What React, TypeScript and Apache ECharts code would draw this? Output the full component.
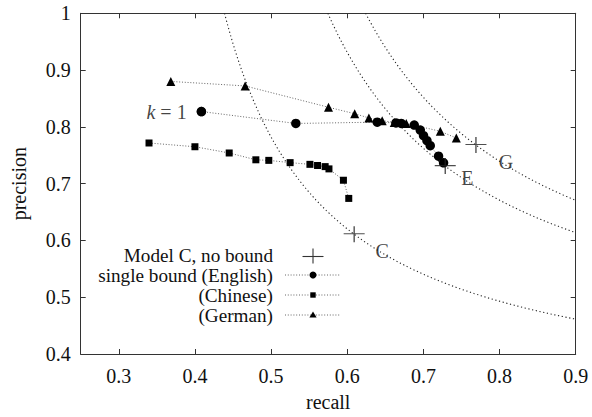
import React, { useEffect, useRef } from "react";
import * as echarts from "echarts";

const englishRecall = [0.4085, 0.5325, 0.6394, 0.6640, 0.6709, 0.6880, 0.6959, 0.7002, 0.7047, 0.7090, 0.7199, 0.7265];
const englishPrecision = [0.8270, 0.8060, 0.8083, 0.8070, 0.8060, 0.8031, 0.7943, 0.7844, 0.7756, 0.7669, 0.7484, 0.7367];

const chineseRecall = [0.3397, 0.400, 0.445, 0.480, 0.497, 0.525, 0.551, 0.561, 0.571, 0.576, 0.595, 0.602];
const chinesePrecision = [0.7716, 0.765, 0.754, 0.742, 0.741, 0.737, 0.734, 0.732, 0.730, 0.726, 0.706, 0.674];

const germanRecall = [0.3683, 0.4659, 0.5754, 0.6098, 0.6284, 0.6459, 0.6617, 0.6775, 0.7222, 0.7432];
const germanPrecision = [0.8800, 0.8721, 0.8345, 0.8232, 0.8157, 0.8109, 0.8078, 0.8060, 0.7922, 0.7804];

const modelNames = ["C", "E", "G"];
const modelRecall = [0.6091, 0.7287, 0.769];
const modelPrecision = [0.6109, 0.7309, 0.7681];

const xTicks = [0.3, 0.4, 0.5, 0.6, 0.7, 0.8, 0.9];
const yTicks = [0.4, 0.5, 0.6, 0.7, 0.8, 0.9, 1];

const FONT = "Liberation Serif";
const FS = 20;
const LFS = 19.2;

const labelOffsets: Record<string, number[]> = { C: [28, 17], E: [22, 12], G: [30, 17] };

function zip(a: number[], b: number[]) {
  return a.map((v, i) => [v, b[i]]);
}

function isoCurve(r0: number, p0: number, rMax: number) {
  const f = (2 * p0 * r0) / (p0 + r0);
  const rStart = f / (2 - f);
  const pts: number[][] = [];
  const n = 200;
  for (let i = 0; i <= n; i++) {
    const r = rStart + ((rMax - rStart) * i) / n;
    pts.push([r, (f * r) / (2 * r - f)]);
  }
  return pts;
}

export default function App() {
  const ref = useRef<HTMLDivElement>(null);
  useEffect(() => {
    if (!ref.current) return;
    const chart = echarts.init(ref.current, undefined, { renderer: "svg" });
    const textStyle = { fontFamily: FONT, fontSize: FS, color: "#111" };
    const axisLine = { show: true, lineStyle: { color: "#333", width: 1 } };
    const tick = { show: true, inside: true, length: 5, lineStyle: { color: "#333" } };

    const curveSeries = modelRecall.map((r, i) => ({
      type: "line",
      data: isoCurve(r, modelPrecision[i], 0.9),
      showSymbol: false,
      symbol: "none",
      lineStyle: { color: "#222", width: 1.1, type: [1.2, 2.6] },
      silent: true,
      z: 1,
    }));

    const lineStyle = { color: "#666", width: 1, type: [1, 1.8] };

    const lx = 285, lx2 = 341, lcx = 313, tx = 273;
    const rows = [255, 275, 295, 315];
    const legendTexts = ["Model C, no bound", "single bound (English)", "(Chinese)", "(German)"];

    const graphic: any[] = [];
    legendTexts.forEach((t, i) => {
      graphic.push({
        type: "text",
        x: tx,
        y: rows[i],
        style: { text: t, font: `${LFS}px "${FONT}"`, lineHeight: 19, fill: "#111", align: "right", verticalAlign: "middle" },
      });
    });
    graphic.push({ type: "line", shape: { x1: lcx - 10.5, y1: rows[0] + 1.5, x2: lcx + 10.5, y2: rows[0] + 1.5 }, style: { stroke: "#333", lineWidth: 1.1 } });
    graphic.push({ type: "line", shape: { x1: lcx, y1: rows[0] - 6.5, x2: lcx, y2: rows[0] + 8.5 }, style: { stroke: "#333", lineWidth: 1.1 } });
    [1, 2, 3].forEach((i) => {
      graphic.push({ type: "line", shape: { x1: lx, y1: rows[i], x2: lx2, y2: rows[i] }, style: { stroke: "#666", lineWidth: 1, lineDash: [1, 1.8] } });
    });
    graphic.push({ type: "circle", shape: { cx: lcx, cy: rows[1], r: 3.5 }, style: { fill: "#000" } });
    graphic.push({ type: "rect", shape: { x: lcx - 2.7, y: rows[2] - 2.7, width: 5.4, height: 5.4 }, style: { fill: "#000" } });
    graphic.push({ type: "polygon", shape: { points: [[lcx, rows[3] - 3.5], [lcx - 3.6, rows[3] + 2.5], [lcx + 3.6, rows[3] + 2.5]] }, style: { fill: "#000" } });

    const option: any = {
      animation: false,
      backgroundColor: "#fff",
      textStyle: { fontFamily: FONT },
      grid: { left: 80.7, top: 13.3, right: 16.3, bottom: 60.3, containLabel: false },
      xAxis: [
        {
          type: "value",
          min: 0.25,
          max: 0.9,
          splitNumber: 6,
          position: "bottom",
          axisLine,
          axisTick: tick,
          splitLine: { show: false },
          axisLabel: {
            ...textStyle,
            margin: 12,
            showMinLabel: false,
            formatter: (v: number) => {
              const t = xTicks.find((x) => Math.abs(x - v) < 1e-6);
              return t === undefined ? "" : t.toFixed(1);
            },
          },
          name: "recall",
          nameLocation: "middle",
          nameGap: 38,
          nameTextStyle: textStyle,
        },
        {
          type: "value",
          min: 0.25,
          max: 0.9,
          splitNumber: 6,
          position: "top",
          axisLine,
          axisTick: tick,
          splitLine: { show: false },
          axisLabel: { show: false },
        },
      ],
      yAxis: [
        {
          type: "value",
          min: 0.4,
          max: 1,
          interval: 0.1,
          position: "left",
          axisLine,
          axisTick: tick,
          splitLine: { show: false },
          axisLabel: {
            ...textStyle,
            margin: 10,
            formatter: (v: number) => {
              const t = yTicks.find((y) => Math.abs(y - v) < 1e-6);
              if (t === undefined) return "";
              return t === 1 ? "1" : t.toFixed(1);
            },
          },
          name: "precision",
          nameLocation: "middle",
          nameGap: 52,
          nameRotate: 90,
          nameTextStyle: textStyle,
        },
        {
          type: "value",
          min: 0.4,
          max: 1,
          interval: 0.1,
          position: "right",
          axisLine,
          axisTick: tick,
          splitLine: { show: false },
          axisLabel: { show: false },
        },
      ],
      series: [
        ...curveSeries,
        {
          name: "single bound (English)",
          type: "line",
          data: zip(englishRecall, englishPrecision),
          symbol: "circle",
          symbolSize: 9.5,
          itemStyle: { color: "#000" },
          lineStyle,
          z: 3,
        },
        {
          name: "k-label",
          type: "scatter",
          data: [
            {
              value: [englishRecall[0], englishPrecision[0]],
              label: {
                show: true,
                position: "left",
                distance: 10,
                formatter: "{i|k} = 1",
                rich: {
                  i: { fontFamily: FONT, fontSize: FS, fontStyle: "italic", color: "#111" },
                },
                fontFamily: FONT,
                fontSize: FS,
                color: "#111",
              },
            },
          ],
          symbolSize: 9.5,
          itemStyle: { color: "#000" },
          z: 3,
        },
        {
          name: "(Chinese)",
          type: "line",
          data: zip(chineseRecall, chinesePrecision),
          symbol: "rect",
          symbolSize: 7,
          itemStyle: { color: "#000" },
          lineStyle,
          z: 3,
        },
        {
          name: "(German)",
          type: "line",
          data: zip(germanRecall, germanPrecision),
          symbol: "triangle",
          symbolSize: 9,
          itemStyle: { color: "#000" },
          lineStyle,
          z: 3,
        },
        {
          name: "Model C, no bound",
          type: "scatter",
          symbol: "path://M0,7.5L21,7.5M10.5,0L10.5,16",
          symbolSize: [21, 16],
          symbolKeepAspect: false,
          itemStyle: { color: "none", borderColor: "#222", borderWidth: 1.2 },
          data: modelNames.map((n, i) => ({
            value: [modelRecall[i], modelPrecision[i]],
            label: {
              show: true,
              position: "inside",
              offset: labelOffsets[n],
              formatter: n,
              fontFamily: FONT,
              fontSize: FS,
              color: "#111",
            },
          })),
          z: 4,
        },
      ],
      graphic,
    };
    chart.setOption(option);
    return () => chart.dispose();
  }, []);
  return (
    <div
      ref={ref}
      style={{ position: "fixed", left: 0, top: 0, width: 592, height: 417, background: "#fff" }}
    />
  );
}
